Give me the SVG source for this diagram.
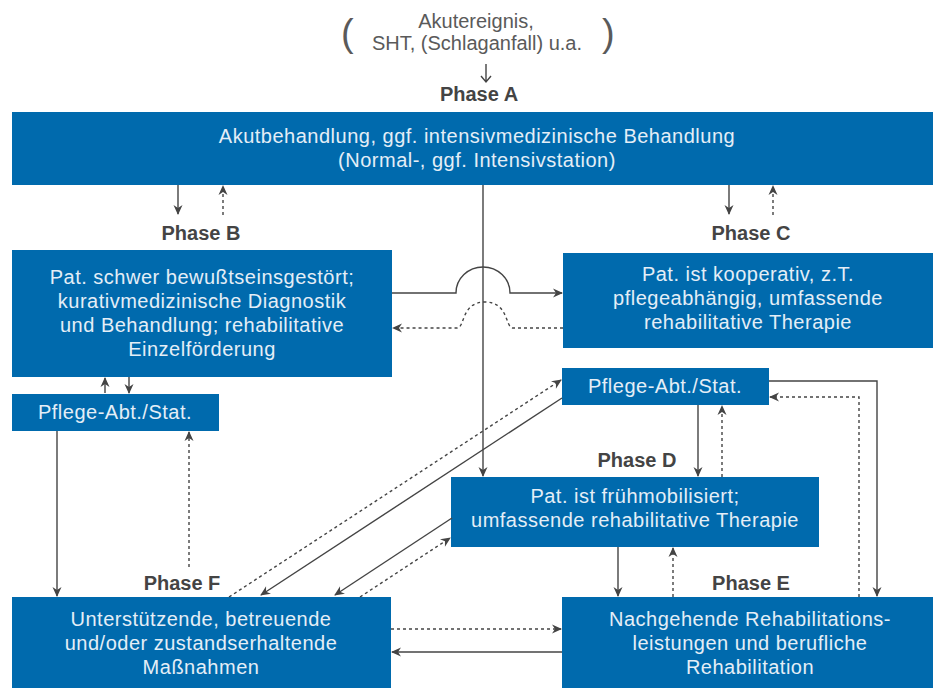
<svg xmlns="http://www.w3.org/2000/svg" width="933" height="688" viewBox="0 0 933 688">
<defs>
<style>
.box{fill:#006aad}
.bt{font-family:"Liberation Sans",Arial,sans-serif;font-size:20px;fill:#e4eef7;text-anchor:middle;letter-spacing:0.5px}
.ph{font-family:"Liberation Sans",Arial,sans-serif;font-size:20px;font-weight:bold;fill:#444;text-anchor:middle}
.top{font-family:"Liberation Sans",Arial,sans-serif;font-size:20px;fill:#5a5a5a;text-anchor:middle}
.par{font-family:"Liberation Sans",Arial,sans-serif;font-size:38px;fill:#5a5a5a}
.s{fill:none;stroke:#444;stroke-width:1.4;marker-end:url(#ah)}
.d{fill:none;stroke:#444;stroke-width:1.4;stroke-dasharray:3 3;marker-end:url(#ah)}
.n{fill:none;stroke:#444;stroke-width:1.4}
</style>
<marker id="ah" markerUnits="userSpaceOnUse" markerWidth="12" markerHeight="12" viewBox="0 0 12 12" refX="10" refY="6" orient="auto">
<path d="M1,1.5 L11,6 L1,10.5 L4,6 z" fill="#444"/>
</marker>
</defs>
<g id="event">
<text class="par" x="341" y="46">(</text>
<text class="par" x="602" y="46">)</text>
<text class="top" x="476" y="28">Akutereignis,</text>
<text class="top" x="477" y="50">SHT, (Schlaganfall) u.a.</text>
</g>
<g id="labels">
<text class="ph" x="479" y="101">Phase A</text>
<text class="ph" x="201" y="240">Phase B</text>
<text class="ph" x="751" y="240">Phase C</text>
<text class="ph" x="637" y="467">Phase D</text>
<text class="ph" x="751" y="590">Phase E</text>
<text class="ph" x="182" y="590">Phase F</text>
</g>
<g id="phaseA">
<rect class="box" x="12" y="112" width="921" height="73"/>
<text class="bt" x="477" y="143">Akutbehandlung, ggf. intensivmedizinische Behandlung</text>
<text class="bt" x="477" y="167">(Normal-, ggf. Intensivstation)</text>
</g>
<g id="phaseB">
<rect class="box" x="12" y="250" width="380" height="127"/>
<text class="bt" x="202" y="284">Pat. schwer bewußtseinsgestört;</text>
<text class="bt" x="202" y="308">kurativmedizinische Diagnostik</text>
<text class="bt" x="202" y="332">und Behandlung; rehabilitative</text>
<text class="bt" x="202" y="356">Einzelförderung</text>
</g>
<g id="phaseC">
<rect class="box" x="563" y="253" width="370" height="95"/>
<text class="bt" x="748" y="281">Pat. ist kooperativ, z.T.</text>
<text class="bt" x="748" y="305">pflegeabhängig, umfassende</text>
<text class="bt" x="748" y="329">rehabilitative Therapie</text>
</g>
<g id="pflegeLeft">
<rect class="box" x="12" y="394" width="207" height="37"/>
<text class="bt" x="115" y="419">Pflege-Abt./Stat.</text>
</g>
<g id="pflegeRight">
<rect class="box" x="562" y="368" width="207" height="37"/>
<text class="bt" x="665" y="393">Pflege-Abt./Stat.</text>
</g>
<g id="phaseD">
<rect class="box" x="451" y="477" width="368" height="70"/>
<text class="bt" x="635" y="503">Pat. ist frühmobilisiert;</text>
<text class="bt" x="635" y="527">umfassende rehabilitative Therapie</text>
</g>
<g id="phaseF">
<rect class="box" x="12" y="597" width="379" height="91"/>
<text class="bt" x="201" y="626">Unterstützende, betreuende</text>
<text class="bt" x="201" y="650">und/oder zustandserhaltende</text>
<text class="bt" x="201" y="674">Maßnahmen</text>
</g>
<g id="phaseE">
<rect class="box" x="562" y="597" width="371" height="91"/>
<text class="bt" x="750" y="626">Nachgehende Rehabilitations-</text>
<text class="bt" x="750" y="650">leistungen und berufliche</text>
<text class="bt" x="750" y="674">Rehabilitation</text>
</g>
<g id="connectors">
<path class="n" d="M486,64 V82 M481,76 L486,82 L491,76"/>
<path class="s" d="M178,185 V214"/>
<path class="d" d="M223,215 V186"/>
<path class="s" d="M729,185 V214"/>
<path class="d" d="M773,215 V186"/>
<path class="s" d="M483,185 V476"/>
<path class="s" d="M392,293 H456 A27,26 0 0 1 510,293 H562"/>
<path class="d" d="M563,328 H513 C505,328 509,302 485,302 C461,302 465,328 457,328 H393"/>
<path class="s" d="M105,393 V378"/>
<path class="s" d="M129,377 V393"/>
<path class="s" d="M57,431 V596"/>
<path class="d" d="M189,567 V432"/>
<path class="d" d="M229,597 L561,380"/>
<path class="s" d="M562,398 L261,595"/>
<path class="s" d="M452,518 L335,595"/>
<path class="d" d="M360,597 L450,538"/>
<path class="s" d="M698,405 V476"/>
<path class="d" d="M722,477 V406"/>
<path class="s" d="M618,547 V596"/>
<path class="d" d="M673,597 V548"/>
<path class="s" d="M769,381 H877 V596"/>
<path class="d" d="M859,597 V397 H770"/>
<path class="d" d="M391,629 H561"/>
<path class="s" d="M562,652 H392"/>
</g>
</svg>
